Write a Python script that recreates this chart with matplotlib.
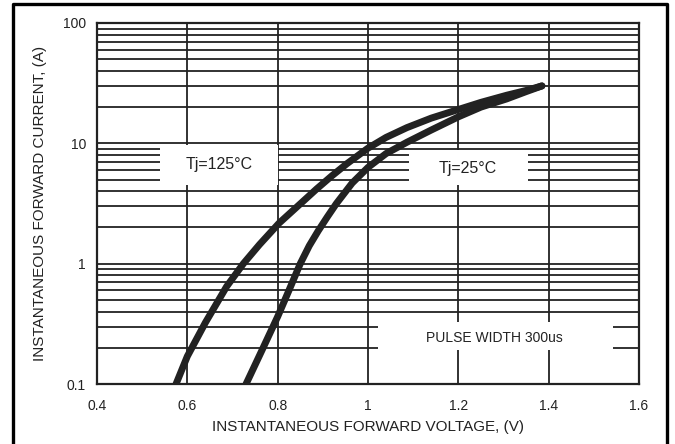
import numpy as np
import matplotlib.pyplot as plt
from matplotlib.lines import Line2D
from matplotlib.patches import Rectangle

plt.rcParams['font.family'] = ['Liberation Sans', 'DejaVu Sans']

# Forward characteristics
v_125 = [0.575, 0.60, 0.64, 0.687, 0.724, 0.76, 0.803, 0.845, 0.886, 0.92, 0.953,
         1.0, 1.04, 1.086, 1.14, 1.2, 1.25, 1.307, 1.35, 1.385]
i_125 = [0.1, 0.17, 0.324, 0.646, 1.0, 1.445, 2.17, 3.02, 4.17, 5.37, 6.76,
         9.12, 11.2, 13.5, 16.2, 19.1, 21.9, 25.1, 27.5, 30.0]

v_25 = [0.73, 0.765, 0.80, 0.825, 0.85, 0.87, 0.89, 0.91, 0.93, 0.965, 1.0,
        1.04, 1.086, 1.14, 1.2, 1.25, 1.307, 1.35, 1.385]
i_25 = [0.1, 0.19, 0.363, 0.60, 1.0, 1.41, 1.88, 2.45, 3.16, 4.68, 6.31,
        8.22, 10.2, 12.9, 16.6, 20.0, 23.4, 26.9, 30.0]

x_ticks = [0.4, 0.6, 0.8, 1.0, 1.2, 1.4, 1.6]
x_labels = ['0.4', '0.6', '0.8', '1', '1.2', '1.4', '1.6']
y_ticks = [0.1, 1, 10, 100]
y_labels = ['0.1', '1', '10', '100']

ink = '#222222'

fig = plt.figure(figsize=(6.75, 4.44), dpi=100)
ax = fig.add_axes([0.1437, 0.1351, 0.8030, 0.8131])

ax.set_yscale('log')
ax.set_xlim(0.4, 1.6)
ax.set_ylim(0.1, 100)

# grid: every decade step horizontally, 0.2 V vertically
for dec in [0.1, 1, 10]:
    for k in range(1, 10):
        ax.axhline(dec * k, color=ink, lw=1.3, zorder=1)
for xv in x_ticks[1:-1]:
    ax.axvline(xv, color=ink, lw=1.3, zorder=1)

# white label boxes that cut the grid
boxes = [(0.116, 0.552, 0.218, 0.110), (0.576, 0.552, 0.219, 0.095), (0.518, 0.094, 0.434, 0.078)]
for bx, by, bw, bh in boxes:
    ax.add_patch(Rectangle((bx, by), bw, bh, transform=ax.transAxes,
                           facecolor='white', edgecolor='none', zorder=2))

ax.plot(v_125, i_125, color=ink, lw=5, solid_capstyle='round', solid_joinstyle='round', zorder=3)
ax.plot(v_25, i_25, color=ink, lw=5, solid_capstyle='round', solid_joinstyle='round', zorder=3)

ax.text(0.225, 0.607, 'Tj=125°C', transform=ax.transAxes, ha='center', va='center',
        fontsize=11.5, color=ink, zorder=4)
ax.text(0.684, 0.598, 'Tj=25°C', transform=ax.transAxes, ha='center', va='center',
        fontsize=11.5, color=ink, zorder=4)
ax.text(0.734, 0.128, 'PULSE WIDTH 300us', transform=ax.transAxes, ha='center', va='center',
        fontsize=10, color=ink, zorder=4)

ax.set_xticks(x_ticks)
ax.set_xticklabels(x_labels)
ax.set_yticks(y_ticks)
ax.set_yticklabels(y_labels)
ax.minorticks_off()
ax.tick_params(axis='both', length=0, labelsize=10, colors=ink)
ax.tick_params(axis='x', pad=11)
ax.tick_params(axis='y', pad=8)
for s in ax.spines.values():
    s.set_color(ink)
    s.set_linewidth(1.6)
    s.set_zorder(5)

ax.set_xlabel('INSTANTANEOUS FORWARD VOLTAGE, (V)', fontsize=11, color=ink, labelpad=5)
ax.set_ylabel('INSTANTANEOUS FORWARD CURRENT, (A)', fontsize=11, color=ink, labelpad=11)

# heavy outer frame (open at the bottom edge of the picture)
fx0, fx1, fy1 = 13 / 675, 667 / 675, 1 - 4 / 444
fig.add_artist(Line2D([fx0, fx0, fx1, fx1], [-0.05, fy1, fy1, -0.05],
                      transform=fig.transFigure, color='black', lw=2.4))

fig.savefig('out.png', dpi=100)
